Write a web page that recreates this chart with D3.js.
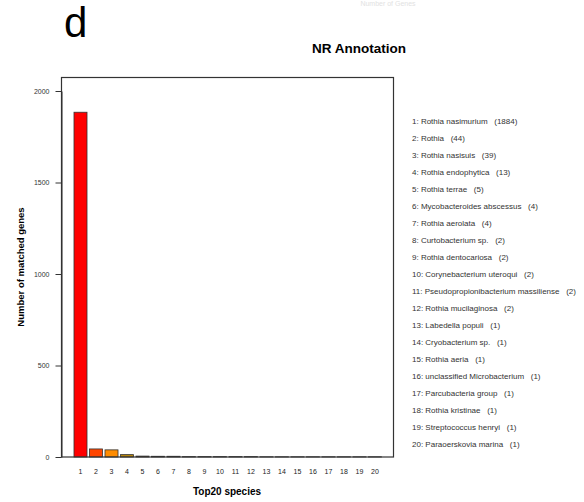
<!DOCTYPE html>
<html>
<head>
<meta charset="utf-8">
<script src="https://cdn.jsdelivr.net/npm/d3@7"></script>
<style>
  body { margin: 0; background: #fff; }
  text { font-family: "Liberation Sans", Arial, sans-serif; }
</style>
</head>
<body>
<svg id="chart" width="584" height="502"></svg>
<script>
// top 20 species from NR annotation
var species = ["Rothia nasimurium", "Rothia", "Rothia nasisuis", "Rothia endophytica",
  "Rothia terrae", "Mycobacteroides abscessus", "Rothia aerolata", "Curtobacterium sp.",
  "Rothia dentocariosa", "Corynebacterium uteroqui", "Pseudopropionibacterium massiliense",
  "Rothia mucilaginosa", "Labedella populi", "Cryobacterium sp.", "Rothia aeria",
  "unclassified Microbacterium", "Parcubacteria group", "Rothia kristinae",
  "Streptococcus henryi", "Paraoerskovia marina"];
var genes = [1884, 44, 39, 13, 5, 4, 4, 2, 2, 2, 2, 2, 1, 1, 1, 1, 1, 1, 1, 1];
var barColors = ["#ff0000", "#ff4500", "#ff8c00", "#b8860b", "#7a5a10", "#5a4a20",
  "#4a4a30", "#404040", "#404040", "#404040", "#404040", "#404040", "#404040",
  "#404040", "#404040", "#404040", "#404040", "#404040", "#404040", "#404040"];
var yTicks = [0, 500, 1000, 1500, 2000];

var data = species.map((s, i) => ({ rank: i + 1, name: s, n: genes[i] }));

var svg = d3.select("#chart");

var x = d3
  .scaleBand()
  .domain(data.map(d => d.rank))
  .range([72.75, 382.75])
  .paddingInner(0.16)
  .paddingOuter(0.08);

var y = d3.scaleLinear().domain([0, 2000]).range([457, 91]);

// faint header at the very top
svg.append("text")
  .attr("x", 388).attr("y", 6)
  .attr("text-anchor", "middle")
  .style("font-size", "7px")
  .attr("fill", "#e2e2e2")
  .text("Number of Genes");

// panel letter
svg.append("text")
  .attr("x", 64).attr("y", 37)
  .style("font-size", "42px")
  .attr("fill", "#000")
  .text("d");

svg.append("text")
  .attr("x", 359).attr("y", 53)
  .attr("text-anchor", "middle")
  .style("font-size", "13.5px")
  .style("font-weight", "bold")
  .text("NR Annotation");

// bars
svg.selectAll("rect.bar")
  .data(data)
  .enter()
  .append("rect")
  .attr("class", "bar")
  .attr("x", d => x(d.rank))
  .attr("width", x.bandwidth())
  .attr("y", d => y(d.n))
  .attr("height", d => y(0) - y(d.n))
  .attr("fill", (d, i) => barColors[i])
  .attr("stroke", "#333")
  .attr("stroke-width", 0.8);

// box round the plot
svg.append("rect")
  .attr("x", 61.5).attr("y", 77.5)
  .attr("width", 332).attr("height", 379.5)
  .attr("fill", "none")
  .attr("stroke", "#333")
  .attr("stroke-width", 1.2);

// y axis
var yAxis = svg.append("g")
  .attr("transform", "translate(61.5,0)")
  .call(d3.axisLeft(y).tickValues(yTicks).tickFormat(d3.format("d"))
    .tickSize(6).tickSizeOuter(0).tickPadding(6));
yAxis.select(".domain").attr("stroke", "#333");
yAxis.selectAll(".tick line").attr("stroke", "#333");
yAxis.selectAll("text")
  .style("font-family", "Liberation Sans, Arial, sans-serif")
  .style("font-size", "7px")
  .attr("fill", "#333");

// x labels
svg.selectAll("text.xlab")
  .data(data)
  .enter()
  .append("text")
  .attr("class", "xlab")
  .attr("x", d => x(d.rank) + x.bandwidth() / 2)
  .attr("y", 474)
  .attr("text-anchor", "middle")
  .style("font-size", "7px")
  .attr("fill", "#222")
  .text(d => d.rank);

svg.append("text")
  .attr("x", 227).attr("y", 495)
  .attr("text-anchor", "middle")
  .style("font-size", "10px")
  .style("font-weight", "bold")
  .text("Top20 species");

svg.append("text")
  .attr("transform", "translate(24,267) rotate(-90)")
  .attr("text-anchor", "middle")
  .style("font-size", "9.5px")
  .style("font-weight", "bold")
  .text("Number of matched genes");

// legend list
svg.selectAll("text.legend")
  .data(data)
  .enter()
  .append("text")
  .attr("class", "legend")
  .attr("x", 412)
  .attr("y", (d, i) => 123.5 + i * 17)
  .style("font-size", "8px")
  .attr("fill", "#333")
  .attr("xml:space", "preserve")
  .text(d => d.rank + ": " + d.name + "   (" + d.n + ")");
</script>
</body>
</html>
